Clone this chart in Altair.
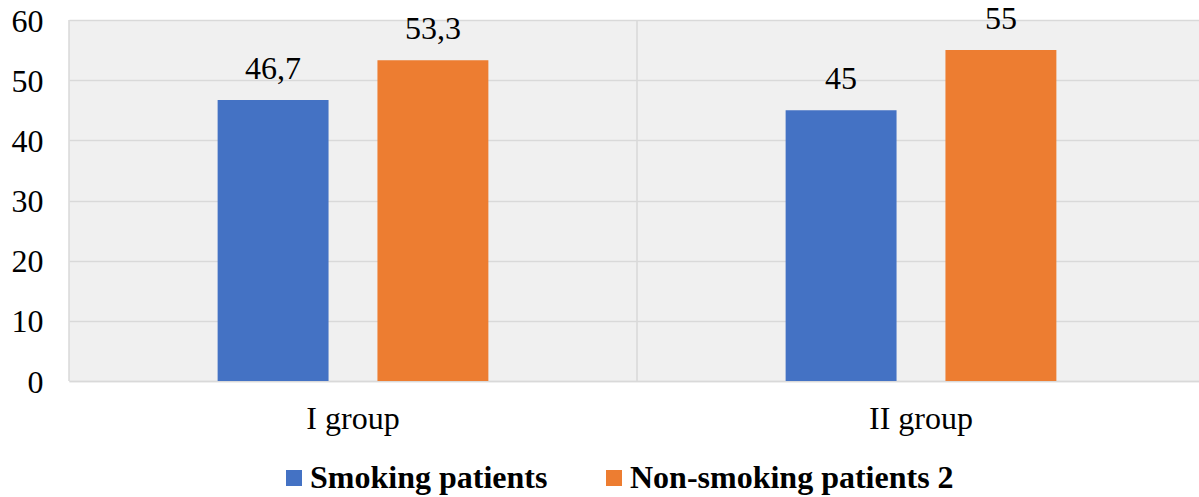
import altair as alt
import pandas as pd

groups = ["I group", "II group"]
series = ["Smoking patients", "Non-smoking patients 2"]
smoking = [46.7, 45]
non_smoking = [53.3, 55]
colors = ["#4472c4", "#ed7d31"]

rows = []
for i, g in enumerate(groups):
    for s, vals in zip(series, [smoking, non_smoking]):
        v = vals[i]
        rows.append({"group": g, "series": s, "value": v,
                     "label": f"{v:g}".replace(".", ",")})
df = pd.DataFrame(rows)
gdf = pd.DataFrame({"group": groups})

FONT = "Liberation Serif"
FS = 32

x_scale = alt.Scale(domain=groups, paddingInner=0, paddingOuter=0)
xo_scale = alt.Scale(domain=series, paddingInner=0.306, paddingOuter=0.93)
y_scale = alt.Scale(domain=[0, 60])

x_axis = alt.Axis(title=None, labelFont=FONT, labelFontSize=FS,
                  labelColor="black", ticks=False, labelAngle=0,
                  labelBaseline="alphabetic", labelPadding=47,
                  domainColor="#d9d9d9", domainWidth=1.5, grid=False)
y_axis = alt.Axis(title=None, values=[0, 10, 20, 30, 40, 50, 60],
                  labelFont=FONT, labelFontSize=FS, labelColor="black",
                  ticks=False, domain=False, labelPadding=26,
                  labelBaseline="alphabetic", labelOffset=11,
                  gridColor="#d9d9d9", gridWidth=1.5)

vgrid = alt.Chart(gdf).mark_rule(color="#d9d9d9", strokeWidth=1.5).encode(
    x=alt.X("group:N", scale=x_scale, bandPosition=0, sort=groups, axis=x_axis)
)

bars = alt.Chart(df).mark_bar().encode(
    x=alt.X("group:N", scale=x_scale, sort=groups, axis=x_axis),
    xOffset=alt.XOffset("series:N", scale=xo_scale, sort=series),
    y=alt.Y("value:Q", scale=y_scale, axis=y_axis),
    color=alt.Color("series:N", sort=series,
                    scale=alt.Scale(domain=series, range=colors),
                    legend=alt.Legend(title=None, orient="none", direction="horizontal",
                                      legendX=209, legendY=442,
                                      symbolType="square", symbolSize=256,
                                      symbolStrokeWidth=0,
                                      labelFont=FONT, labelFontSize=FS,
                                      labelFontWeight="bold", labelColor="black",
                                      labelOffset=0, columnPadding=50,
                                      labelLimit=0)),
)

texts = alt.Chart(df).mark_text(font=FONT, fontSize=FS, color="black",
                                baseline="alphabetic", dy=-21).encode(
    x=alt.X("group:N", scale=x_scale, sort=groups, axis=x_axis),
    xOffset=alt.XOffset("series:N", scale=xo_scale, sort=series),
    y=alt.Y("value:Q", scale=y_scale, axis=y_axis),
    text="label:N",
)

chart = alt.layer(vgrid, bars, texts).properties(
    width=1136, height=361,
    autosize=alt.AutoSizeParams(type="none"),
    padding={"left": 69, "top": 20, "right": -6, "bottom": 116},
    background="white",
).configure_view(fill="#f0f0f0", stroke=None)

chart.save("out.html", embed_options={"renderer": "svg", "actions": False})
